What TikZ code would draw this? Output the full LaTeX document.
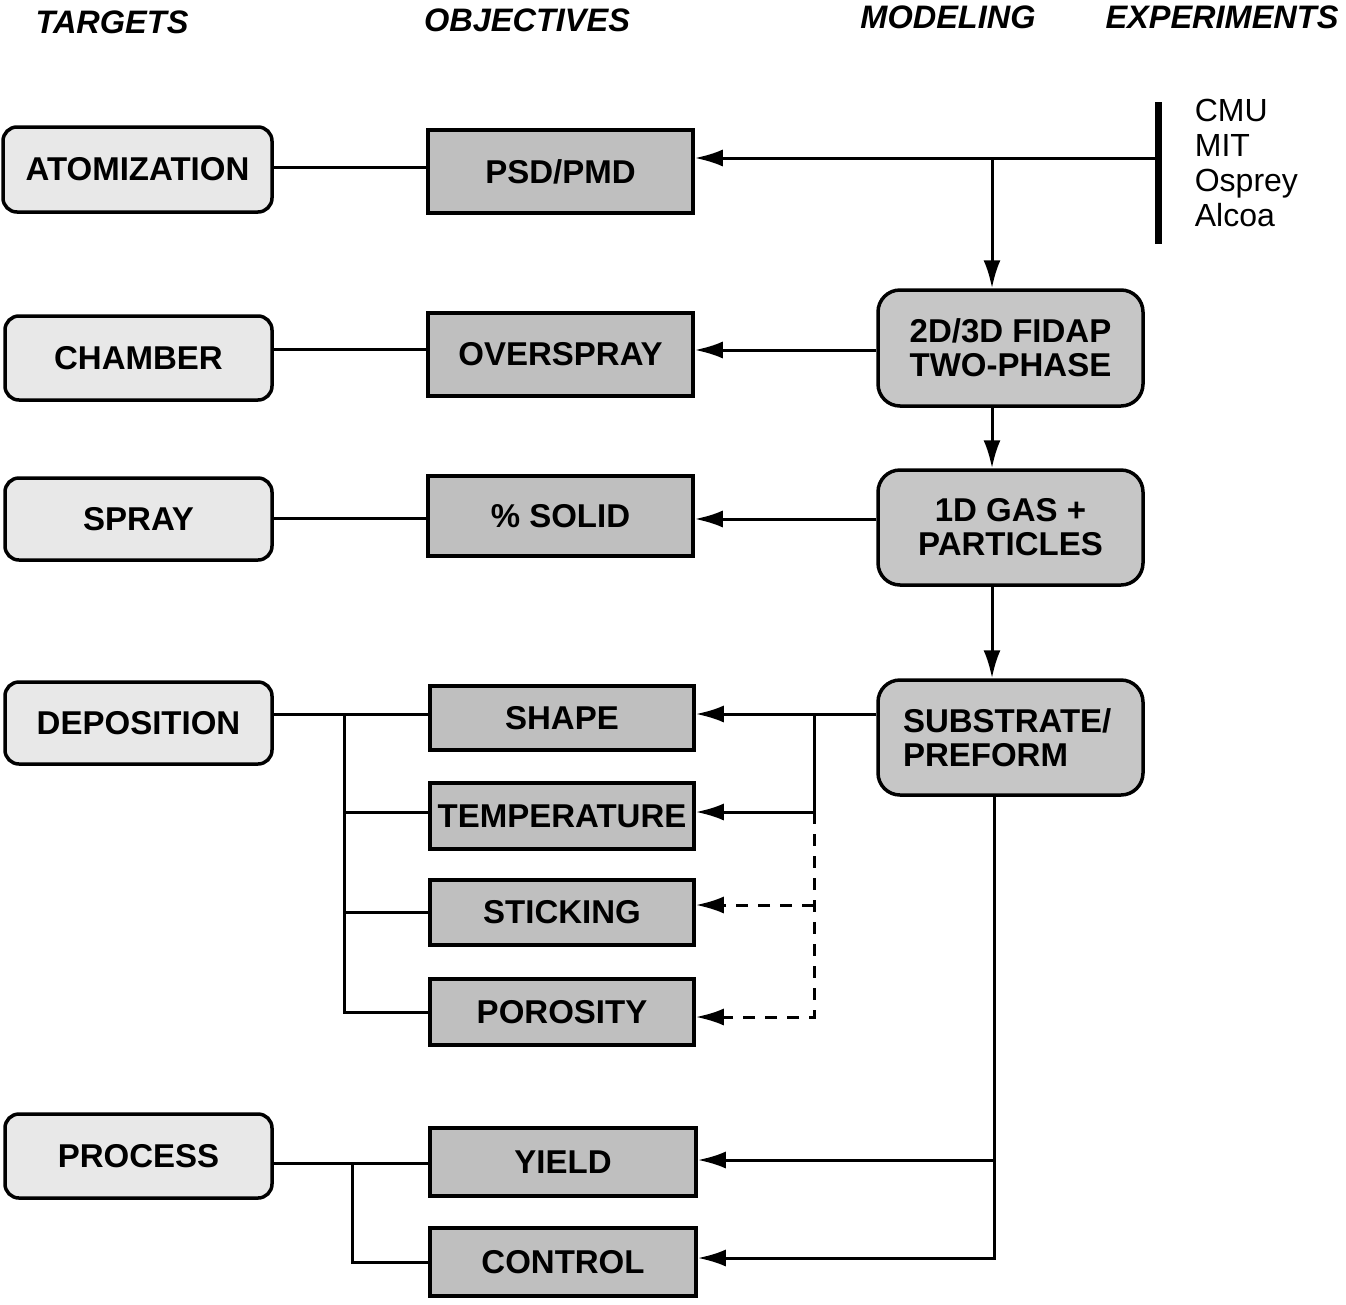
\documentclass[tikz,border=0pt]{standalone}
\usepackage{fontspec}
\setmainfont{Liberation Sans}
\usetikzlibrary{arrows.meta,calc}
\begin{document}
\begin{tikzpicture}[x=1pt,y=-1pt,
  line width=3pt,
  boxfont/.style={font=\fontsize{33}{34}\selectfont\bfseries},
  tgt/.style={draw, line width=3.5pt, rounded corners=14pt, fill=gray!18, boxfont, inner sep=0pt},
  obj/.style={draw, line width=3.5pt, fill=gray!50, boxfont, inner sep=0pt},
  mdl/.style={draw, line width=3.5pt, rounded corners=22pt, fill=gray!45, boxfont, inner sep=0pt},
  hdr/.style={font=\fontsize{32.5}{32}\selectfont\bfseries\itshape},
  arr/.style={-{Latex[length=28pt,width=17pt]}},
  darr/.style={arr, dash pattern=on 12pt off 10pt}]
\useasboundingbox (0,0) rectangle (1346,1304);

% headers
\node[hdr] (h1) at (112,22) {TARGETS};
\node[hdr] (h2) at (527,20) {OBJECTIVES};
\node[hdr] (h3) at (948,17) {MODELING};
\node[hdr] (h4) at (1222,17) {EXPERIMENTS};

% targets
\node[tgt, minimum width=269pt, minimum height=85pt] (atom) at (137.5,169.5) {ATOMIZATION};
\node[tgt, minimum width=267pt, minimum height=84pt] (cham) at (138.5,358) {CHAMBER};
\node[tgt, minimum width=267pt, minimum height=82pt] (spray) at (138.5,519) {SPRAY};
\node[tgt, minimum width=267pt, minimum height=82pt] (dep) at (138.5,723) {DEPOSITION};
\node[tgt, minimum width=267pt, minimum height=84pt] (proc) at (138.5,1156) {PROCESS};

% objectives
\node[obj, minimum width=265pt, minimum height=83pt] (psd) at (560.5,171.5) {PSD/PMD};
\node[obj, minimum width=265pt, minimum height=83pt] (ovs) at (560.5,354.5) {OVERSPRAY};
\node[obj, minimum width=265pt, minimum height=80pt] (solid) at (560.5,516) {\% SOLID};
\node[obj, minimum width=264pt, minimum height=64pt] (shape) at (562,718) {SHAPE};
\node[obj, minimum width=264pt, minimum height=66pt] (temp) at (562,816) {TEMPERATURE};
\node[obj, minimum width=264pt, minimum height=65pt] (stick) at (562,912.5) {STICKING};
\node[obj, minimum width=264pt, minimum height=66pt] (poro) at (562,1012) {POROSITY};
\node[obj, minimum width=266pt, minimum height=68pt] (yield) at (563,1162) {YIELD};
\node[obj, minimum width=266pt, minimum height=68pt] (ctrl) at (563,1262) {CONTROL};

% modeling
\node[mdl, minimum width=265pt, minimum height=116pt, align=center] (fidap) at (1010.5,348) {2D/3D FIDAP\\TWO-PHASE};
\node[mdl, minimum width=265pt, minimum height=115pt, align=center] (gas) at (1010.5,527.5) {1D GAS +\\PARTICLES};
\node[mdl, minimum width=265pt, minimum height=115pt, align=left, text width=215pt] (sub) at (1010.5,737.5) {SUBSTRATE/\\PREFORM};

% experiments
\coordinate (bt) at (1158,102);
\coordinate (bb) at (1158,244);
\coordinate (barmid) at (1158,158);
\draw[line width=7pt] (bt) -- (bb);
\node[anchor=west, align=left, font=\fontsize{32}{35}\selectfont] (exp) at (1190,163) {CMU\\MIT\\Osprey\\Alcoa};

% target -> objective lines
\draw (atom.east |- 0,167) -- (psd.west |- 0,167);
\draw (cham.east |- 0,349) -- (ovs.west |- 0,349);
\draw (spray.east |- 0,518) -- (solid.west |- 0,518);
\draw (dep.east |- 0,714) -- (shape.west |- 0,714);
\coordinate (jl) at (344,714);
\draw (jl) -- (344,1012) -- (poro.west |- 0,1012);
\draw (344,812) -- (temp.west |- 0,812);
\draw (344,912) -- (stick.west |- 0,912);
\draw (proc.east |- 0,1163) -- (yield.west |- 0,1163);
\coordinate (jp) at (352,1163);
\draw (jp) -- (352,1262) -- (ctrl.west |- 0,1262);

% modeling chain
\coordinate (vx) at (992,0);
\draw[arr] (barmid) -- (barmid -| psd.east);
\draw[arr] (vx |- barmid) -- (vx |- fidap.north);
\draw[arr] (vx |- fidap.south) -- (vx |- gas.north);
\draw[arr] (vx |- gas.south) -- (vx |- sub.north);

\draw[arr] (fidap.west |- 0,350) -- (ovs.east |- 0,350);
\draw[arr] (gas.west |- 0,519) -- (solid.east |- 0,519);

\draw[arr] (sub.west |- 0,714) -- (shape.east |- 0,714);
\coordinate (jr) at (814,714);
\draw[arr] (jr) -- (814,812) -- (temp.east |- 0,812);
\draw[darr] (814,812) -- (814,1017) -- (poro.east |- 0,1017);
\draw[darr] (814,905) -- (stick.east |- 0,905);

\coordinate (vb) at (994,0);
\draw[arr] (vb |- sub.south) -- (vb |- 0,1258) -- (ctrl.east |- 0,1258);
\draw[arr] (vb |- 0,1160) -- (yield.east |- 0,1160);
\end{tikzpicture}
\end{document}
